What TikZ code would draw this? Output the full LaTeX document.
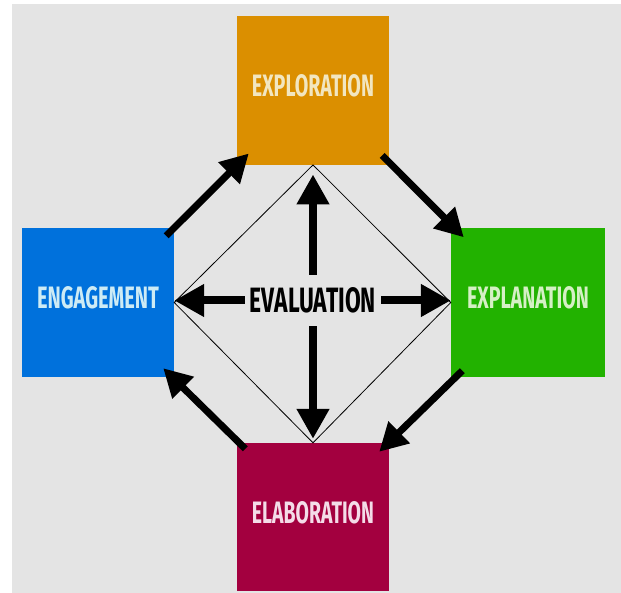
\documentclass[tikz,border=0pt]{standalone}
\usepackage{fontspec}
\usepackage{graphicx}
\setsansfont{Fira Sans}
\usetikzlibrary{arrows.meta,calc}

\definecolor{bggray}{HTML}{E4E4E4}
\definecolor{exploC}{HTML}{DB8F00}
\definecolor{engageC}{HTML}{0071DC}
\definecolor{explanC}{HTML}{22B200}
\definecolor{elabC}{HTML}{A3003F}
\definecolor{exploT}{HTML}{F2E6C0}
\definecolor{engageT}{HTML}{CDEBF5}
\definecolor{explanT}{HTML}{D5F0C5}
\definecolor{elabT}{HTML}{F4DCE8}

% a stage label squeezed to a fixed width and cap height
\newcommand{\stagetext}[1]{\resizebox{122pt}{22pt}{\sffamily\bfseries #1}}

\tikzset{
  stagebox/.style={rectangle, inner sep=0pt, minimum width=152pt, minimum height=149pt},
  stagelabel/.style={inner sep=0pt, yshift=4.5pt},
  cycarrow/.style={line width=7pt, -{Triangle[width=29pt,length=28pt]}},
  evalarrow/.style={line width=8pt, -{Triangle[width=31pt,length=30pt]}},
  diamondline/.style={line width=0.8pt}
}

\begin{document}
\begin{tikzpicture}[x=1pt,y=-1pt]
  \useasboundingbox (0,0) rectangle (621,593);
  \fill[white] (0,0) rectangle (621,593);
  \fill[bggray] (12,4) rectangle (621,593);

  % the four stages
  \node[stagebox, fill=exploC]  (explo)  at (313,90.25) {};
  \node[stagebox, fill=engageC] (engage) at (98,302.5) {};
  \node[stagebox, fill=explanC, minimum width=154pt] (explan) at (528,302.5) {};
  \node[stagebox, fill=elabC, minimum height=148pt]   (elab)   at (313,517) {};

  \node[stagelabel, text=exploT]  (exploL)  at (explo)  {\stagetext{EXPLORATION}};
  \node[stagelabel, text=engageT] (engageL) at (engage) {\stagetext{ENGAGEMENT}};
  \node[stagelabel, text=explanT] (explanL) at (explan) {\stagetext{EXPLANATION}};
  \node[stagelabel, text=elabT]   (elabL)   at (elab)   {\stagetext{ELABORATION}};

  % the diamond joining the stages
  \draw[diamondline] (explo.south) -- (engage.east) -- (elab.north) -- (explan.west) -- cycle;

  % evaluation in the middle
  \node[inner sep=0pt, minimum width=136pt, minimum height=51pt] (eval) at (313,300.5)
    {\resizebox{126pt}{25pt}{\sffamily\bfseries EVALUATION}};

  \draw[evalarrow, shorten >=9.5pt] (eval.north) -- (explo.south);
  \draw[evalarrow, shorten >=4pt]   (eval.south) -- (elab.north);
  \draw[evalarrow] (eval.west) -- (eval.west -| engage.east);
  \draw[evalarrow] (eval.east) -- (eval.east -| explan.west);

  % the cycle around the stages
  \draw[cycarrow] ($(engage.north east)+(-8,8)$) -- ($(explo.south west)+(12,-11.5)$);
  \draw[cycarrow] ($(explo.south east)+(-7,-9.5)$) -- ($(explan.north west)+(13,9.5)$);
  \draw[cycarrow] ($(explan.south west)+(11.5,-6.5)$) -- ($(elab.north east)+(-10,9)$);
  \draw[cycarrow] ($(elab.north west)+(8.5,6)$) -- ($(engage.south east)+(-11,-9)$);
\end{tikzpicture}
\end{document}
